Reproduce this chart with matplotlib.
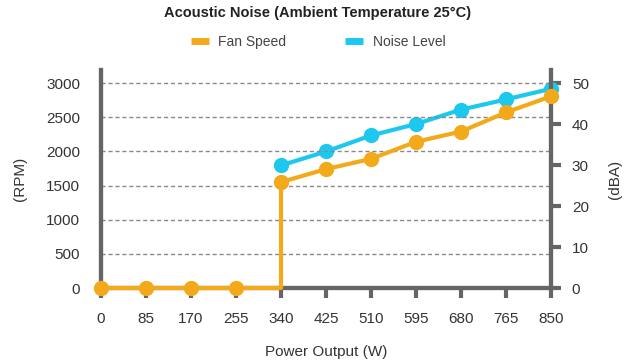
import matplotlib.pyplot as plt

power = [0, 85, 170, 255, 340, 425, 510, 595, 680, 765, 850]
# fan speed (RPM); fan off until 340 W, then jumps
fan_x = [0, 85, 170, 255, 340, 340, 425, 510, 595, 680, 765, 850]
fan_rpm = [0, 0, 0, 0, 0, 1550, 1740, 1890, 2140, 2290, 2570, 2805]
fan_marks = [0, 1, 2, 3, 5, 6, 7, 8, 9, 10, 11]
# noise level (dBA), only measured once the fan runs
noise_x = [340, 425, 510, 595, 680, 765, 850]
noise_dba = [29.9, 33.3, 37.2, 40.0, 43.5, 46.0, 48.6]

rpm_ticks = [0, 500, 1000, 1500, 2000, 2500, 3000]
dba_ticks = [0, 10, 20, 30, 40, 50]

ORANGE = "#f2aa1a"
CYAN = "#1cc8ee"
SPINE = "#656565"
TXT = "#333333"
FONT = ["Liberation Sans", "DejaVu Sans"]

plt.rcParams["font.family"] = FONT

fig = plt.figure(figsize=(6.36, 3.61), dpi=100)
ax = fig.add_axes([0.1588, 0.2022, 0.7076, 0.6038])
ax2 = ax.twinx()

ymax = 3190
ax.set_ylim(0, ymax)
ax2.set_ylim(0, ymax / 60)
ax.set_xlim(0, 850)

for y in rpm_ticks[1:]:
    ax.axhline(y, color="#8a8a8a", linestyle=(0, (3, 2)), linewidth=1.0, zorder=1)

ax.plot(fan_x, fan_rpm, color=ORANGE, linewidth=3, marker="o", markersize=10,
        markevery=fan_marks, clip_on=False, zorder=4)
ax2.plot(noise_x, noise_dba, color=CYAN, linewidth=3, marker="o", markersize=10,
         clip_on=False, zorder=3)
ax.set_zorder(ax2.get_zorder() + 1)
ax.patch.set_visible(False)

for a in (ax, ax2):
    a.spines["top"].set_visible(False)
    for s in ("left", "right", "bottom"):
        a.spines[s].set_color(SPINE)
        a.spines[s].set_linewidth(3)

ax.set_xticks(power)
ax.set_xticklabels([str(p) for p in power], fontsize=11, color=TXT)
ax.tick_params(axis="x", length=7, width=3, color=SPINE, pad=10)
ax.set_yticks(rpm_ticks)
ax.set_yticklabels([str(v) for v in rpm_ticks], fontsize=11, color=TXT)
ax.tick_params(axis="y", length=0, pad=15)
ax2.set_yticks(dba_ticks)
ax2.set_yticklabels([str(v) for v in dba_ticks], fontsize=11, color=TXT)
ax2.tick_params(axis="y", length=7, width=3, color=SPINE, pad=8)

ax.set_ylabel("(RPM)", fontsize=11, color=TXT, labelpad=14)
ax2.set_ylabel("(dBA)", fontsize=11, color=TXT, rotation=90, labelpad=14)
ax.set_xlabel("Power Output (W)", fontsize=11, color=TXT, labelpad=14)

fig.text(0.5, 0.965, "Acoustic Noise (Ambient Temperature 25°C)", ha="center",
         va="center", fontsize=10.5, fontweight="bold", color="#222222")

h1, = ax.plot([], [], color=ORANGE, linewidth=5, solid_capstyle="butt")
h2, = ax.plot([], [], color=CYAN, linewidth=5, solid_capstyle="butt")
fig.legend([h1, h2], ["Fan Speed", "Noise Level"], loc="center",
           bbox_to_anchor=(0.5, 0.883), ncol=2, frameon=False, fontsize=10,
           handlelength=1.3, handletextpad=0.7, columnspacing=4.2,
           labelcolor="#444444")

fig.savefig("out.png", dpi=100)
